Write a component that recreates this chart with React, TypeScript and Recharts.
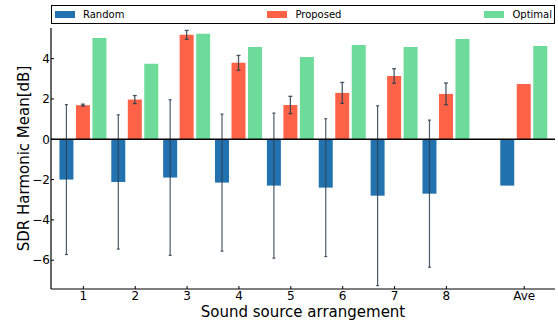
import React from "react";
import { Bar, ComposedChart, ErrorBar, Label, ReferenceLine, XAxis, YAxis } from "recharts";

// x positions of each group (Ave sits a bit further right)
const positions = [1, 2, 3, 4, 5, 6, 7, 8, 9.5];
const tickLabels = ["1", "2", "3", "4", "5", "6", "7", "8", "Ave"];

const randomMean = [-2.0, -2.12, -1.9, -2.15, -2.3, -2.4, -2.8, -2.7, -2.3];
const randomErr = [3.72, 3.33, 3.86, 3.4, 3.6, 3.42, 4.46, 3.65, null];
const proposedMean = [1.69, 1.97, 5.18, 3.79, 1.7, 2.3, 3.14, 2.25, 2.74];
const proposedErr = [0.05, 0.2, 0.22, 0.37, 0.43, 0.52, 0.36, 0.54, null];
const optimalMean = [5.03, 3.74, 5.23, 4.58, 4.08, 4.68, 4.58, 4.98, 4.63];

const yTicks = [-6, -4, -2, 0, 2, 4];
const seriesNames = ["Random", "Proposed", "Optimal"];

const COLORS: Record<string, string> = {
  Random: "#2172ae",
  Proposed: "#fe6347",
  Optimal: "#6ddc9a",
};
const ERR_COLOR = "#2c3e50";
const FONT = "'DejaVu Sans', sans-serif";

const X_DOMAIN: [number, number] = [0.376, 10.094];
const Y_DOMAIN: [number, number] = [-7.43, 5.52];

const data = positions.map((pos, i) => ({
  pos,
  Random: randomMean[i],
  randomErr: randomErr[i],
  Proposed: proposedMean[i],
  proposedErr: proposedErr[i],
  Optimal: optimalMean[i],
}));

const labelFor = (v: number) => tickLabels[positions.indexOf(v)] ?? String(v);
const fmtNum = (v: number) => (v < 0 ? `\u2212${Math.abs(v)}` : String(v));

// ticks point inward, like the matplotlib original
const BottomTick = ({ x, y, payload }: any) => (
  <g>
    <line x1={x} x2={x} y1={y} y2={y - 3} stroke="#000" strokeWidth={1} />
    <text x={x} y={y + 11} textAnchor="middle" fontSize={12} fill="#000" fontFamily={FONT}>
      {labelFor(payload.value)}
    </text>
  </g>
);

const TopTick = ({ x, y }: any) => <line x1={x} x2={x} y1={y} y2={y + 3} stroke="#000" strokeWidth={1} />;

const LeftTick = ({ x, y, payload }: any) => (
  <g>
    <line x1={x} x2={x + 3} y1={y} y2={y} stroke="#000" strokeWidth={1} />
    <text x={x - 1} y={y + 4.3} textAnchor="end" fontSize={12} fill="#000" fontFamily={FONT}>
      {fmtNum(payload.value)}
    </text>
  </g>
);

const RightTick = ({ x, y }: any) => <line x1={x} x2={x - 3} y1={y} y2={y} stroke="#000" strokeWidth={1} />;

function ChartLegend() {
  return (
    <div
      style={{
        position: "absolute",
        left: 51,
        top: 5,
        width: 504,
        height: 19,
        boxSizing: "border-box",
        border: "1px solid #000",
        display: "flex",
        alignItems: "center",
        justifyContent: "space-between",
        padding: "0 2px 0 3px",
        fontSize: 10,
        fontFamily: FONT,
        background: "#fff",
      }}
    >
      {seriesNames.map((name) => (
        <div key={name} style={{ display: "flex", alignItems: "center", gap: 8 }}>
          <span style={{ width: 20, height: 7, background: COLORS[name], display: "inline-block" }} />
          <span>{name}</span>
        </div>
      ))}
    </div>
  );
}

export default function App() {
  return (
    <div style={{ position: "absolute", left: 0, top: 0, width: 558, height: 322, background: "#fff" }}>
      <ComposedChart
        width={558}
        height={322}
        data={data}
        margin={{ top: 28, right: 3, bottom: 0, left: 0 }}
        barGap={2.5}
        style={{ fontFamily: FONT }}
      >
        <XAxis
          dataKey="pos"
          type="number"
          domain={X_DOMAIN}
          allowDataOverflow
          ticks={positions}
          interval={0}
          height={33}
          tickSize={0}
          tickMargin={0}
          tickLine={false}
          axisLine={{ stroke: "#000", strokeWidth: 1.2 }}
          tick={<BottomTick />}
        >
          <Label
            content={({ viewBox }: any) => (
              <text
                x={viewBox.x + viewBox.width / 2}
                y={viewBox.y + 27.5}
                textAnchor="middle"
                fontSize={15}
                fill="#000"
                fontFamily={FONT}
              >
                Sound source arrangement
              </text>
            )}
          />
        </XAxis>
        <XAxis
          xAxisId="top"
          orientation="top"
          type="number"
          domain={X_DOMAIN}
          allowDataOverflow
          ticks={positions}
          interval={0}
          height={0}
          tickSize={0}
          tickMargin={0}
          tickLine={false}
          axisLine={{ stroke: "#000", strokeWidth: 1.2 }}
          tick={<TopTick />}
        />
        <YAxis
          type="number"
          domain={Y_DOMAIN}
          allowDataOverflow
          ticks={yTicks}
          interval={0}
          width={51}
          tickSize={0}
          tickMargin={0}
          tickLine={false}
          axisLine={{ stroke: "#000", strokeWidth: 1.2 }}
          tick={<LeftTick />}
        >
          <Label
            content={({ viewBox }: any) => {
              const cx = viewBox.x + 28.5;
              const cy = viewBox.y + viewBox.height / 2;
              return (
                <text
                  x={cx}
                  y={cy}
                  transform={`rotate(-90, ${cx}, ${cy})`}
                  textAnchor="middle"
                  fontSize={15}
                  fill="#000"
                  fontFamily={FONT}
                >
                  SDR Harmonic Mean[dB]
                </text>
              );
            }}
          />
        </YAxis>
        <YAxis
          yAxisId="right"
          orientation="right"
          type="number"
          domain={Y_DOMAIN}
          allowDataOverflow
          ticks={yTicks}
          interval={0}
          width={0}
          tickSize={0}
          tickMargin={0}
          tickLine={false}
          axisLine={{ stroke: "#000", strokeWidth: 1.2 }}
          tick={<RightTick />}
        />
        <Bar dataKey="Random" fill={COLORS.Random} barSize={14} isAnimationActive={false}>
          <ErrorBar dataKey="randomErr" width={1.5} stroke={ERR_COLOR} strokeWidth={1.2} strokeOpacity={0.85} />
        </Bar>
        <Bar dataKey="Proposed" fill={COLORS.Proposed} barSize={14} isAnimationActive={false}>
          <ErrorBar dataKey="proposedErr" width={2} stroke={ERR_COLOR} strokeWidth={1.3} strokeOpacity={0.85} />
        </Bar>
        <Bar dataKey="Optimal" fill={COLORS.Optimal} barSize={14} isAnimationActive={false} />
        <ReferenceLine y={0} stroke="#000" strokeWidth={1.3} />
      </ComposedChart>
      <ChartLegend />
    </div>
  );
}
